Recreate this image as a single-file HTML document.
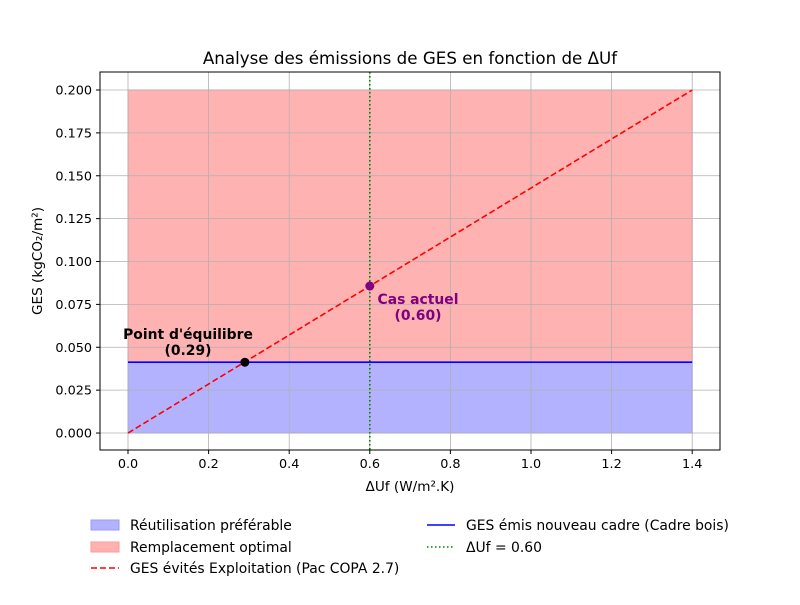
<!DOCTYPE html>
<html><head><meta charset="utf-8"><style>
body{margin:0;background:#fff;font-family:"Liberation Sans","DejaVu Sans",sans-serif;}
svg text{font-family:"DejaVu Sans","Liberation Sans",sans-serif;}
</style></head><body>
<svg id="c" width="800" height="600" xmlns="http://www.w3.org/2000/svg"></svg>
<script>
const xTicks=[0,0.2,0.4,0.6,0.8,1.0,1.2,1.4];
const xTickLabels=["0.0","0.2","0.4","0.6","0.8","1.0","1.2","1.4"];
const yTicks=[0,0.025,0.05,0.075,0.1,0.125,0.15,0.175,0.2];
const yTickLabels=["0.000","0.025","0.050","0.075","0.100","0.125","0.150","0.175","0.200"];
const lineX=[0,1.4];
const lineY=[0,0.2];
const gesNew=[0.0413];
const fillTop=[0.2];
const currentUf=[0.6];
const equilibrium=[0.29];
const L=100,R=720,T=72,B=450,x0=-0.0695,x1=1.469,y0=-0.0099,y1=0.2105;
const sx=v=>L+(v-x0)/(x1-x0)*(R-L), sy=v=>B-(v-y0)/(y1-y0)*(B-T);
const svg=document.getElementById('c');const NS="http://www.w3.org/2000/svg";
function mk(t,a,txt){const e=document.createElementNS(NS,t);for(const k in a)e.setAttribute(k,a[k]);if(txt!==undefined)e.textContent=txt;svg.appendChild(e);return e;}
let e;
e=mk('rect',{x:sx(0),y:sy(fillTop[0]),width:sx(1.4)-sx(0),height:sy(gesNew[0])-sy(fillTop[0]),fill:'#ffb2b2',stroke:'#ff9a9a'});

e=mk('rect',{x:sx(0),y:sy(gesNew[0]),width:sx(1.4)-sx(0),height:sy(0)-sy(gesNew[0]),fill:'#b2b2ff',stroke:'#9a9aff'});

xTicks.forEach((v,i)=>{const x=sx(v);
e=mk('line',{x1:x,x2:x,y1:T,y2:B,stroke:'#b0b0b0','stroke-width':0.8});
mk('line',{x1:x,x2:x,y1:B,y2:B+4,stroke:'#000'});
e=mk('text',{x:x,y:B+18,'font-size':12.8,'text-anchor':'middle'},xTickLabels[i]);});
yTicks.forEach((v,i)=>{const y=sy(v);
e=mk('line',{x1:L,x2:R,y1:y,y2:y,stroke:'#b0b0b0','stroke-width':0.8});
mk('line',{x1:L-4,x2:L,y1:y,y2:y,stroke:'#000'});
e=mk('text',{x:L-8,y:y+4.5,'font-size':12.8,'text-anchor':'end'},yTickLabels[i]);});
e=mk('line',{x1:sx(0),x2:sx(1.4),y1:sy(gesNew[0]),y2:sy(gesNew[0]),stroke:'#0000ff','stroke-width':1.6});
e=mk('line',{x1:sx(lineX[0]),x2:sx(lineX[1]),y1:sy(lineY[0]),y2:sy(lineY[1]),stroke:'#ff0000','stroke-width':1.6,'stroke-dasharray':'6,3'});
e=mk('line',{x1:sx(currentUf[0]),x2:sx(currentUf[0]),y1:T,y2:B,stroke:'#008000','stroke-width':1.6,'stroke-dasharray':'1.5,2.5'});
const slope=(lineY[1]-lineY[0])/(lineX[1]-lineX[0]);
e=mk('circle',{cx:sx(equilibrium[0]),cy:sy(gesNew[0]),r:4.5,fill:'#000'});
e=mk('circle',{cx:sx(currentUf[0]),cy:sy(currentUf[0]*slope),r:4.5,fill:'#800080'});
e=mk('text',{x:188,y:339,'font-size':13.9,'font-weight':'bold','text-anchor':'middle'},"Point d'équilibre");
e=mk('text',{x:188,y:355,'font-size':13.9,'font-weight':'bold','text-anchor':'middle'},"(0.29)");
e=mk('text',{x:418,y:304,'font-size':13.9,'font-weight':'bold','text-anchor':'middle',fill:'#800080'},"Cas actuel");
e=mk('text',{x:418,y:320,'font-size':13.9,'font-weight':'bold','text-anchor':'middle',fill:'#800080'},"(0.60)");
e=mk('rect',{x:L,y:T,width:R-L,height:B-T,fill:'none',stroke:'#000','stroke-width':1});
e=mk('text',{x:410,y:64,'font-size':16.7,'text-anchor':'middle'},"Analyse des émissions de GES en fonction de ΔUf");
e=mk('text',{x:410,y:491,'font-size':13.6,'text-anchor':'middle'},"ΔUf (W/m².K)");
e=mk('text',{x:42,y:261,'font-size':13.6,'text-anchor':'middle',transform:'rotate(-90 42 261)'},"GES (kgCO₂/m²)");
e=mk('rect',{x:91,y:520,width:28,height:10,fill:'#b2b2ff',stroke:'#9a9aff'});
e=mk('text',{x:130,y:530,'font-size':13.9},"Réutilisation préférable");
e=mk('rect',{x:91,y:542,width:28,height:10,fill:'#ffb2b2',stroke:'#ff9a9a'});
e=mk('text',{x:130,y:552,'font-size':13.9},"Remplacement optimal");
e=mk('line',{x1:91,x2:119,y1:568,y2:568,stroke:'#ff0000','stroke-width':1.6,'stroke-dasharray':'6,3'});
e=mk('text',{x:130,y:573,'font-size':13.9},"GES évités Exploitation (Pac COPA 2.7)");
e=mk('line',{x1:427,x2:455,y1:525,y2:525,stroke:'#0000ff','stroke-width':1.6});
e=mk('text',{x:466,y:530,'font-size':13.9},"GES émis nouveau cadre (Cadre bois)");
e=mk('line',{x1:427,x2:455,y1:547,y2:547,stroke:'#008000','stroke-width':1.6,'stroke-dasharray':'1.5,2.5'});
e=mk('text',{x:466,y:552,'font-size':13.9},"ΔUf = 0.60");
</script>
</body></html>
